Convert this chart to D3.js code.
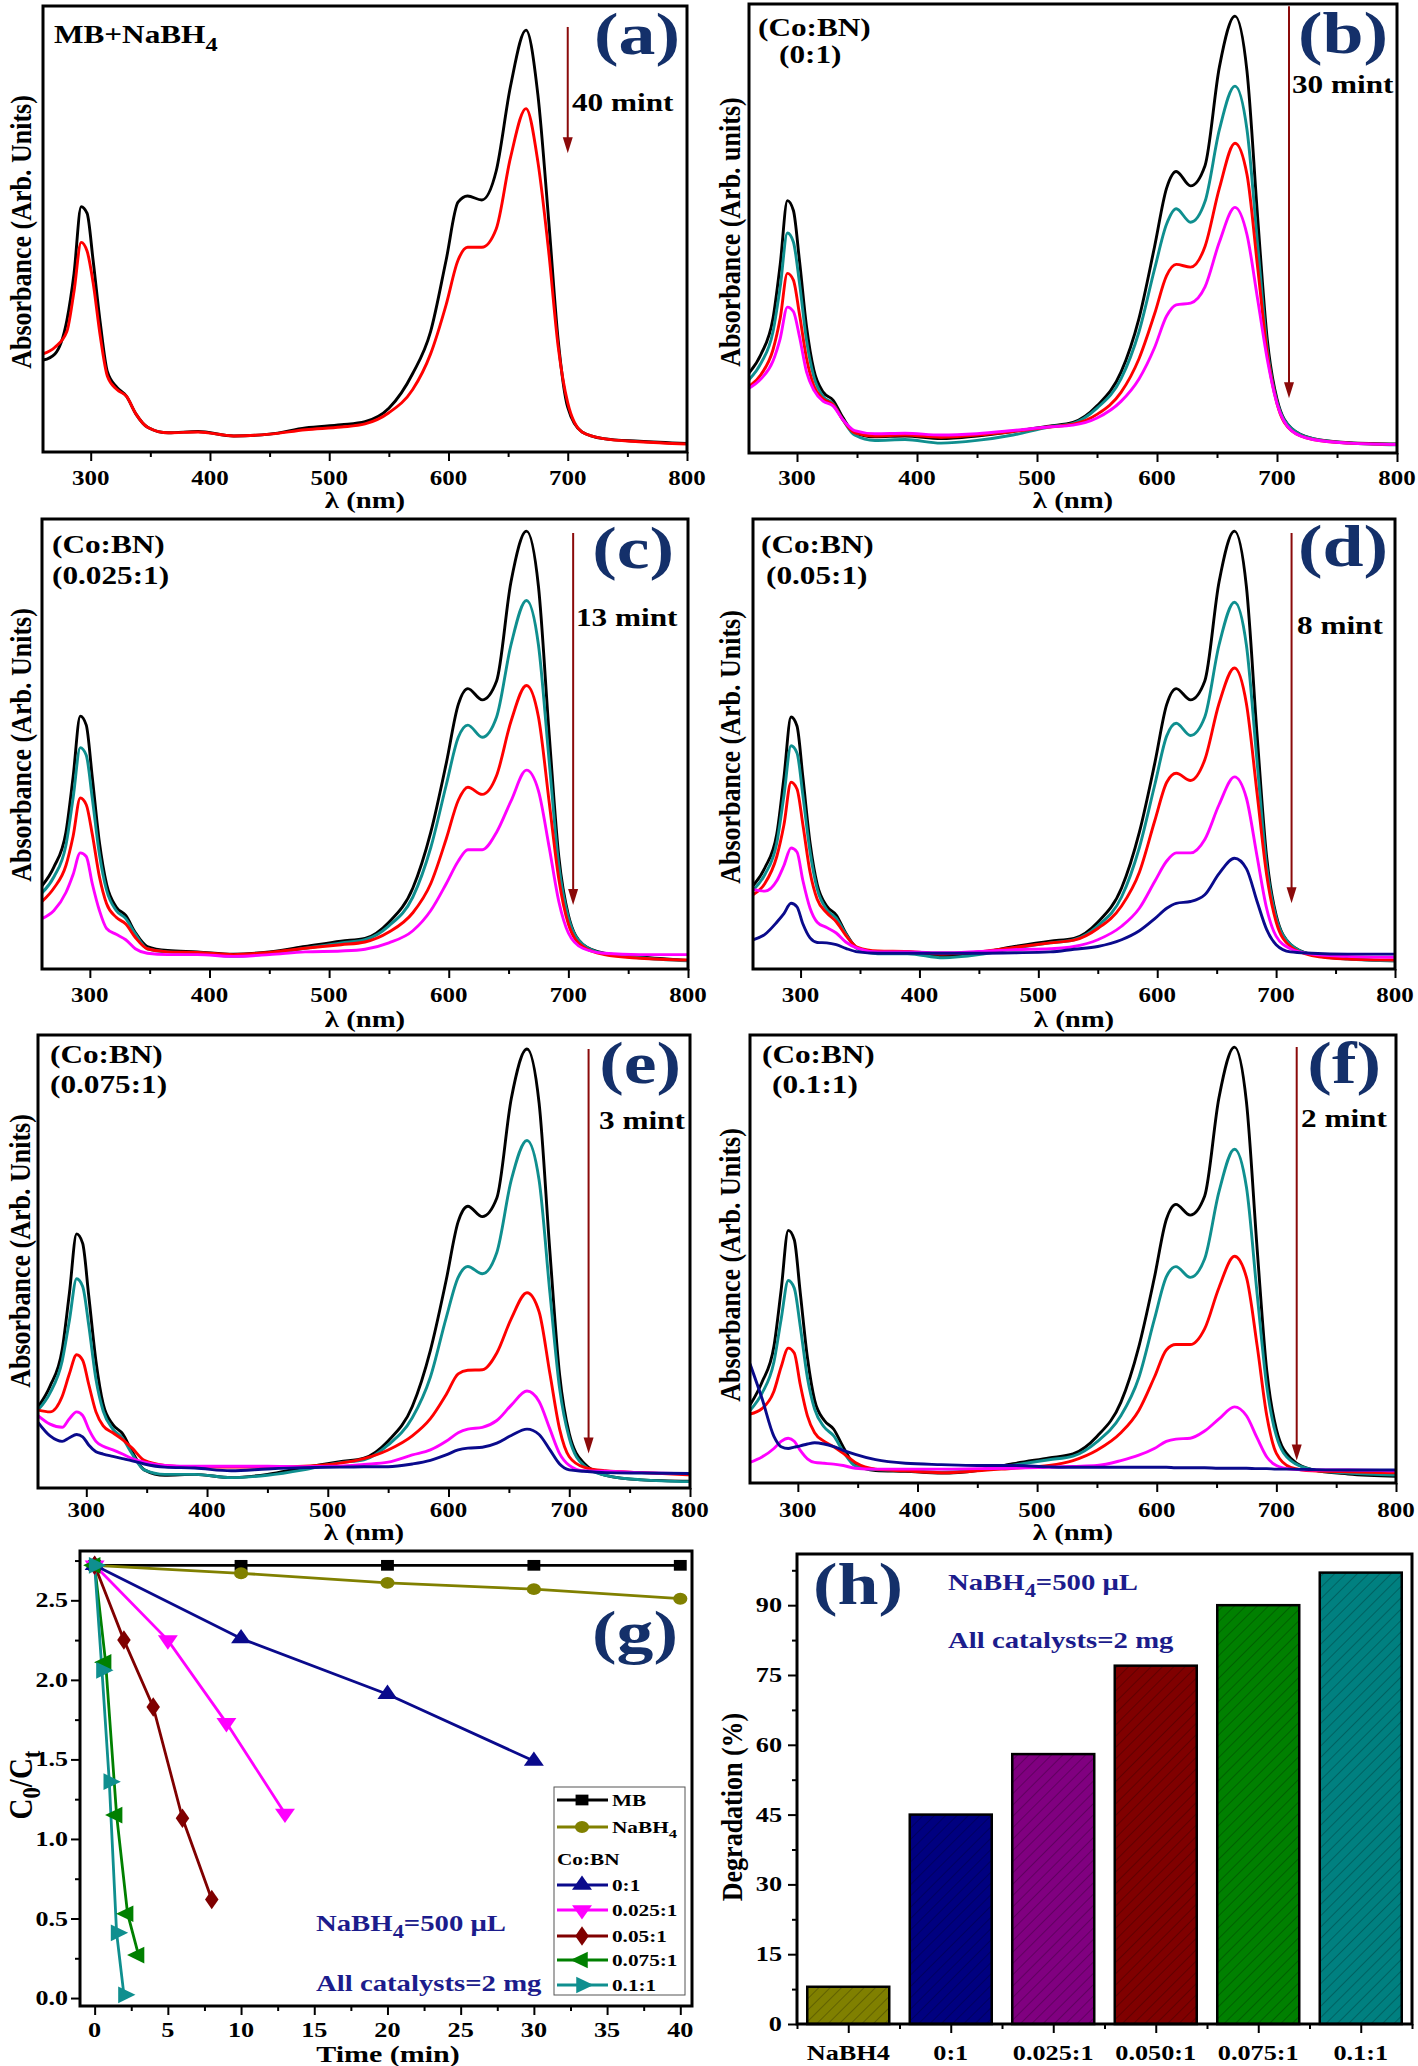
<!DOCTYPE html>
<html><head><meta charset="utf-8">
<script src="https://cdn.jsdelivr.net/npm/d3@7"></script>
<style>body{margin:0;background:#fff} svg{display:block}</style>
</head><body>
<script>
// ---------------- DATA ----------------
const wl = [260,270,280,286,292,297,302,308,314,322,330,338,348,365,390,420,450,480,510,530,550,570,585,598,608,616,628,640,652,665,675,684,692,700,712,730,760,800];

const a_black = [20.6,22,29.5,40,55,53.5,43,29,18,14.5,12.5,8.5,5.5,4.3,4.6,3.6,4,5.4,6.1,6.8,9.8,17.6,27,43,56,57.4,56.5,63,82,94.6,80,52,25,10,4.5,3,2.4,1.9];
const a_red   = [22,23.5,27,36,47,45,38,26,17,14,12.5,8.5,5.5,4.3,4.5,3.6,4,5,5.6,6.3,8.8,14,22,33,43,45.9,45.9,50,66,77,65,45,23.6,11,4.5,3,2.3,1.8];

const b_black   = [17.8,22,30,42,56.2,54,43,28,18.5,13.5,11.8,8,4.5,3.6,3.8,3.2,3.8,4.8,6,6.8,10.5,18,30,46,59,62.7,59.5,64,86,97.3,85,52,25,12,5.5,3.2,2.3,2];
const b_teal    = [16.3,20,27,37,49,47,38,25,17,12.5,11,7.5,4,2.8,3,2.2,2.8,4,5.8,6.6,10,16.5,27,41,51,54.4,51.4,56,72,81.7,72,46,23,11.5,5.5,3.2,2.2,1.8];
const b_red     = [14.8,17.5,23,30,40,38.5,31,21,15,12,10.8,7.5,4.5,3.8,4,3.5,4,4.8,5.8,6.4,8.6,13.5,21,31,39.5,42,41.4,46,59,69,62,41,22,11,5,3,2.2,1.9];
const b_magenta = [14.4,16.5,20.5,25.5,32.5,31.5,26,18,14,11.5,10.5,7.5,5,4.3,4.4,4,4.3,5,5.8,6.2,7.8,11.5,16.5,23.5,30.5,33,33.4,37,47,54.7,48.6,34,20.7,11,5,3,2.2,1.9];

const c_black   = [18.5,22.7,30.4,42.7,56.2,54.2,42.7,28.1,18.8,13.8,11.9,8.1,5,4.1,3.8,3.3,3.8,5,6.2,6.8,10.4,18,30.4,45.8,58.8,62.3,59.8,64,86,97.3,85,52,25,12,5.5,3.5,2.7,1.9];
const c_teal    = [16.9,20.5,27.5,38,49.2,47.5,38,25.5,17.5,13,11.2,7.8,4.5,3.8,3.6,2.8,3.4,4.6,5.8,6.5,9.6,16,27,41,51.5,54.2,51.5,56,72,81.9,72,46,23,11.5,5.5,3.4,2.5,1.8];
const c_red     = [15,18,23,29.5,38,36.5,30,20.5,14.5,11.5,10,7,4.5,3.8,3.7,3.2,3.7,4.6,5.4,6,8.2,12.5,19,29,37.5,40.4,38.8,43,55,63,56,37,20,10,5,3.2,2.4,2];
const c_magenta = [11.2,13,17,21,25.8,25,19,13,9,7.7,6.5,4.5,3.5,3.2,3.2,2.8,3.2,3.8,4,4.4,5.8,8.5,13,19,24,26.5,26.5,30.4,37.3,44.2,39.6,27,15,8,4.6,3.5,3.2,3.2];

const d_black   = [18.5,22.5,30,42.5,56,54,42.5,28,18.8,14,12,8,4.6,3.7,3.8,3,3.6,5,6.2,6.8,10.4,18,30.4,45.8,58.8,62.3,59.8,64,86,97.3,85,52,25,12,5.5,3.2,2.3,1.8];
const d_teal    = [17.5,21,28,38.5,49.6,48,38.5,26,17.8,13.2,11.3,7.8,4.4,3.4,3.4,2.5,3.2,4.6,5.8,6.5,9.6,16,27,41,51.8,54.6,51.9,56,72,81.5,72,46,23,11.5,5.5,3.2,2.2,1.8];
const d_red     = [16.5,19,25,32,41.5,40,32,21.5,15.5,12.5,10.5,7.5,4.8,4,3.9,3.3,3.8,4.8,5.8,6.4,9,14,21.5,33,41.5,43.5,41.9,46.5,59,66.9,59,39,21,10.5,5,3,2.2,2];
const d_magenta = [17.7,17.3,19.6,23,26.9,26,19.6,13.5,10.4,9.2,8,6,4.6,3.8,3.8,3.6,3.9,4.3,4.5,5,6.5,9.5,13.5,19.5,24,25.8,25.8,28.8,36.5,42.7,38,25,13.5,7.3,4.5,3.3,2.8,2.6];
const d_navy    = [6.5,7.7,10.4,12.3,14.6,13.8,10,6.9,5.9,5.8,5.4,4.6,3.8,3.5,3.5,3.5,3.5,3.6,3.8,4.4,5,6.5,8.5,11.2,13.5,14.6,15,16.5,21.2,24.6,22.3,15,8.8,5.4,3.8,3.5,3.3,3.3];

const e_black   = [17.9,22.5,30.5,43,56.1,54,42.5,28,18.5,14,12,8,4,2.8,3,2.3,3,4.5,5.8,6.6,10.4,18,30.4,45.8,58.8,62.2,59.9,64,86,96.9,85,52,25,12,5.5,2.8,1.8,1.5];
const e_teal    = [17.2,21,28,37,46.2,44.5,36,24,17,13,11,7.5,4,3,3,2.3,2.8,4,5.6,6.2,9.5,15.5,24.5,37.5,46.5,48.9,47.3,52,68,76.7,68,43,22,11,5,2.8,1.8,1.4];
const e_red     = [17.2,16.8,20.2,25.2,29.4,28.2,22.9,16.8,13.7,12.2,10.7,8.8,6.1,5,4.6,4.6,4.6,4.8,5.5,6.5,8.4,11.5,15.3,20.6,25.2,26,26.1,29.8,37.4,43.1,38.9,25.2,13,6.9,4.6,3.8,3.4,2.9];
const e_magenta = [16,14.1,13.4,15.3,16.8,16,13,10.3,9.2,8.4,7.5,6.5,5.7,5,4.8,4.8,4.8,4.7,4.8,5.2,5.7,7.3,8.4,10.3,12.2,13,13.4,14.9,18.3,21.4,19.1,13,7.6,5,3.8,3.7,3.4,3.2];
const e_navy    = [14.5,11.5,10.3,11.1,11.8,11.3,9.5,8,7.5,7,6.5,6,5.3,4.6,4.4,3.8,4.2,4.5,4.6,4.7,4.7,5.3,6.1,7.3,8.4,8.8,9,9.9,11.6,13,11.8,8.4,5.3,4,3.7,3.4,3.3,3.2];

const f_black   = [17.4,22.5,30.5,43,56.4,54.3,42.5,28,18.5,14,12,8,4,2.8,2.6,2.2,2.8,4.3,5.6,6.5,10.4,18,30.4,45.8,58.8,62.2,59.8,64,86,97.3,85,52,25,12,5.5,3,2,1.5];
const f_teal    = [16.2,20,27,36.5,45.2,43.5,35,23.5,16.5,12.5,10.5,7,3.8,3,2.8,2.4,2.9,4,5.2,6,9.2,15,23.5,36.5,46,48.3,45.9,50,65,74.5,66,42,21.5,10.5,5,3,2.2,1.8];
const f_red     = [15.4,16.6,20.5,25.9,30.1,29,22,15,11.2,9.3,8.1,6.6,4.6,3.1,2.7,2.3,2.7,3.3,3.9,5,7.3,11.2,16.2,23.6,29.7,30.9,30.9,34.4,43.6,50.6,45.9,30.5,15,6.6,3.5,2.7,2.5,2.3];
const f_magenta = [4.6,5.8,7.7,9.3,10,9.3,7.3,5.4,4.6,4.4,4.2,3.9,3.3,3.1,3.1,3.1,3.2,3.3,3.5,3.7,3.9,5,6.2,7.7,9.3,9.8,10,11.6,14.3,17,15,10,5.8,3.9,3.1,2.9,2.9,2.7];
const f_navy    = [26.6,18.9,10.4,8.1,7.7,8,8.3,8.7,9,8.7,8.1,7.3,6.4,5.2,4.4,4.1,3.9,3.9,3.6,3.5,3.5,3.5,3.5,3.5,3.5,3.4,3.4,3.4,3.3,3.3,3.3,3.2,3.2,3.1,3.1,3,2.9,2.9];

const xTicksNm = [300,400,500,600,700,800];
const xMinorNm = [350,450,550,650,750];

// panel (g): C0/Ct vs time
const g_names  = ["MB","NaBH_{4}","0:1","0.025:1","0.05:1","0.075:1","0.1:1"];
const g_mb_t   = [0,10,20,30,40];      const g_mb_v   = [2.72,2.72,2.72,2.72,2.72];
const g_nab_t  = [0,10,20,30,40];      const g_nab_v  = [2.72,2.67,2.61,2.57,2.51];
const g_01_t   = [0,10,20,30];         const g_01_v   = [2.72,2.26,1.91,1.49];
const g_025_t  = [0,5,9,13];           const g_025_v  = [2.72,2.25,1.73,1.16];
const g_05_t   = [0,2,4,6,8];          const g_05_v   = [2.72,2.25,1.83,1.13,0.62];
const g_075_t  = [0,0.75,1.5,2.25,3];  const g_075_v  = [2.72,2.11,1.15,0.53,0.27];
const g_1_t    = [0,0.5,1,1.5,2];      const g_1_v    = [2.72,2.06,1.36,0.41,0.02];
const g_xticks = [0,5,10,15,20,25,30,35,40];
const g_yticks = [0,0.5,1,1.5,2,2.5];

// panel (h): degradation %
const h_cats = ["NaBH4","0:1","0.025:1","0.050:1","0.075:1","0.1:1"];
const h_vals = [8,45,58,77,90,97];
const h_yticks = [0,15,30,45,60,75,90];

// ---------------- DRAWING ----------------
const W = 1418, H = 2066;
const FONT = "'Liberation Serif','Times New Roman',serif";
const SX = 1.25;
const svg = d3.select('body').append('svg').attr('width', W).attr('height', H);
svg.append('rect').attr('width', W).attr('height', H).attr('fill', '#fff');
const defs = svg.append('defs');

function label(g, x, y, str, o = {}) {
  const size = o.size || 20;
  const sx = o.sx || SX;
  const t = g.append('text')
    .attr('transform', o.rot ? `translate(${x},${y}) rotate(-90) scale(1,${sx})` : `translate(${x},${y}) scale(${sx},1)`)
    .attr('text-anchor', o.anchor || 'start')
    .attr('font-family', FONT).attr('font-weight', 'bold').attr('font-size', size)
    .attr('fill', o.fill || '#000');
  const parts = str.split(/(_\{[^}]*\})/).filter(s => s.length);
  let shift = 0;
  parts.forEach(p => {
    const sub = p.startsWith('_{');
    const txt = sub ? p.slice(2, -1) : p;
    const target = sub ? size * 0.3 : 0;
    const ts = t.append('tspan').text(txt);
    if (target - shift !== 0) ts.attr('dy', target - shift);
    shift = target;
    if (sub) ts.attr('font-size', size * 0.78);
  });
  return t;
}

function styleAxis(sel) {
  sel.select('.domain').remove();
  sel.selectAll('.tick line').attr('stroke', '#000').attr('stroke-width', 2);
  sel.selectAll('.tick text').remove();
}

const C = {black:'#000000', teal:'#0f8f8f', red:'#ff0000', magenta:'#ff00ff', navy:'#0a0a8c'};
const LETTER = '#14306a';
const ARROW = '#8b0a0a';

const panels = [
  {id:'a', L:43, R:687, T:6, B:452, tickY:485, xlabY:508, ylab:'Absorbance (Arb. Units)', ylabX:20, ylabY:232,
   series:[[a_black,C.black],[a_red,C.red]],
   title:[['MB+NaBH_{4}',54,43]], arrow:[700,95.3,67], mint:['40 mint',572,111], letter:['(a)',680,54]},
  {id:'b', L:749, R:1397, T:4, B:453, tickY:485, xlabY:508, ylab:'Absorbance (Arb. units)', ylabX:729, ylabY:232,
   series:[[b_black,C.black],[b_teal,C.teal],[b_red,C.red],[b_magenta,C.magenta]],
   title:[['(Co:BN)',758,36],['(0:1)',779,63]], arrow:[710,99.5,12.2], mint:['30 mint',1292,93], letter:['(b)',1388,53]},
  {id:'c', L:42, R:688, T:519, B:969, tickY:1002, xlabY:1027, ylab:'Absorbance (Arb. Units)', ylabX:20, ylabY:745,
   series:[[c_black,C.black],[c_teal,C.teal],[c_red,C.red],[c_magenta,C.magenta]],
   title:[['(Co:BN)',52,553],['(0.025:1)',52,584]], arrow:[704,96.9,14.2], mint:['13 mint',576,626], letter:['(c)',674,568]},
  {id:'d', L:753, R:1395, T:519, B:969, tickY:1002, xlabY:1027, ylab:'Absorbance (Arb. Units)', ylabX:729, ylabY:747,
   series:[[d_black,C.black],[d_teal,C.teal],[d_red,C.red],[d_magenta,C.magenta],[d_navy,C.navy]],
   title:[['(Co:BN)',761,553],['(0.05:1)',766,584]], arrow:[713,96.9,14.6], mint:['8 mint',1297,634], letter:['(d)',1388,566]},
  {id:'e', L:38, R:690, T:1035, B:1488, tickY:1517, xlabY:1540, ylab:'Absorbance (Arb. Units)', ylabX:19, ylabY:1251,
   series:[[e_black,C.black],[e_teal,C.teal],[e_red,C.red],[e_magenta,C.magenta],[e_navy,C.navy]],
   title:[['(Co:BN)',50,1063],['(0.075:1)',50,1093]], arrow:[716,96.9,7.6], mint:['3 mint',599,1129], letter:['(e)',681,1083]},
  {id:'f', L:750, R:1396, T:1035, B:1483, tickY:1517, xlabY:1540, ylab:'Absorbance (Arb. Units)', ylabX:729, ylabY:1265,
   series:[[f_black,C.black],[f_teal,C.teal],[f_red,C.red],[f_magenta,C.magenta],[f_navy,C.navy]],
   title:[['(Co:BN)',762,1063],['(0.1:1)',772,1093]], arrow:[717,97.3,5], mint:['2 mint',1301,1127], letter:['(f)',1381,1083]},
];

panels.forEach(p => {
  const g = svg.append('g');
  const x = d3.scaleLinear().domain([260, 800]).range([p.L, p.R]);
  const y = d3.scaleLinear().domain([0, 100]).range([p.B, p.T]);
  defs.append('clipPath').attr('id', 'clip' + p.id).append('rect')
    .attr('x', p.L).attr('y', p.T).attr('width', p.R - p.L).attr('height', p.B - p.T);
  const line = d3.line().x((d, i) => x(wl[i])).y(d => y(d)).curve(d3.curveMonotoneX);
  const lg = g.append('g').attr('clip-path', `url(#clip${p.id})`);
  p.series.forEach(([v, c]) => lg.append('path').attr('d', line(v)).attr('fill', 'none')
    .attr('stroke', c).attr('stroke-width', 2.9).attr('stroke-linejoin', 'round'));
  g.append('g').attr('transform', `translate(0,${p.B})`)
    .call(d3.axisBottom(x).tickValues(xTicksNm).tickSize(9).tickSizeOuter(0)).call(styleAxis);
  g.append('g').attr('transform', `translate(0,${p.B})`)
    .call(d3.axisBottom(x).tickValues(xMinorNm).tickSize(5).tickSizeOuter(0)).call(styleAxis);
  xTicksNm.forEach(v => label(g, x(v), p.tickY, String(v), {size:20, anchor:'middle'}));
  label(g, (p.L + p.R) / 2, p.xlabY, 'λ (nm)', {size:23, anchor:'middle'});
  label(g, p.ylabX, p.ylabY, p.ylab, {size:26, anchor:'middle', rot:true, sx:1.12}).attr('dominant-baseline', 'central');
  g.append('rect').attr('x', p.L).attr('y', p.T).attr('width', p.R - p.L).attr('height', p.B - p.T)
    .attr('fill', 'none').attr('stroke', '#000').attr('stroke-width', 3);
  p.title.forEach(([s, tx, ty]) => label(g, tx, ty, s, {size:25}));
  const axp = x(p.arrow[0]), ay0 = y(p.arrow[1]), ay1 = y(p.arrow[2]);
  g.append('line').attr('x1', axp).attr('x2', axp).attr('y1', ay0).attr('y2', ay1 - 10)
    .attr('stroke', ARROW).attr('stroke-width', 2);
  g.append('path').attr('d', `M${axp - 5},${ay1 - 16}L${axp + 5},${ay1 - 16}L${axp},${ay1}Z`).attr('fill', ARROW);
  label(g, p.mint[1], p.mint[2], p.mint[0], {size:25});
  label(g, p.letter[1], p.letter[2], p.letter[0], {size:59, anchor:'end', fill:LETTER});
});

// ---------- panel (g) ----------
(function () {
  const L = 80, R = 692, T = 1551, B = 2006;
  const g = svg.append('g');
  const x = d3.scaleLinear().domain([-1, 40.8]).range([L, R]);
  const y = d3.scaleLinear().domain([-0.05, 2.81]).range([B, T]);
  g.append('g').attr('transform', `translate(0,${B})`)
    .call(d3.axisBottom(x).tickValues(g_xticks).tickSize(9).tickSizeOuter(0)).call(styleAxis);
  g.append('g').attr('transform', `translate(0,${B})`)
    .call(d3.axisBottom(x).tickValues(g_xticks.slice(0, -1).map(v => v + 2.5)).tickSize(5).tickSizeOuter(0)).call(styleAxis);
  g.append('g').attr('transform', `translate(${L},0)`)
    .call(d3.axisLeft(y).tickValues(g_yticks).tickSize(9).tickSizeOuter(0)).call(styleAxis);
  g.append('g').attr('transform', `translate(${L},0)`)
    .call(d3.axisLeft(y).tickValues(g_yticks.map(v => v + 0.25)).tickSize(5).tickSizeOuter(0)).call(styleAxis);
  g_xticks.forEach(v => label(g, x(v), 2037, String(v), {size:21, anchor:'middle'}));
  g_yticks.forEach(v => label(g, 68, y(v) + 7, v.toFixed(1), {size:20, anchor:'end', sx:1.3}));
  label(g, (L + R) / 2 + 2, 2062, 'Time (min)', {size:24, anchor:'middle'});
  label(g, 20, 1785, 'C_{0}/C_{t}', {size:29, anchor:'middle', rot:true, sx:1.15}).attr('dominant-baseline', 'central');

  const tri = d3.symbol().type(d3.symbolTriangle).size(120)();
  const series = [
    {t:g_mb_t, v:g_mb_v, c:'#000000', sym:d3.symbol().type(d3.symbolSquare).size(115)(), rot:0},
    {t:g_nab_t, v:g_nab_v, c:'#808000', sym:d3.symbol().type(d3.symbolCircle).size(110)(), rot:0},
    {t:g_01_t, v:g_01_v, c:'#0a0a8c', sym:tri, rot:0},
    {t:g_025_t, v:g_025_v, c:'#ff00ff', sym:tri, rot:180},
    {t:g_05_t, v:g_05_v, c:'#800000', sym:d3.symbol().type(d3.symbolDiamond).size(110)(), rot:0},
    {t:g_075_t, v:g_075_v, c:'#008000', sym:tri, rot:-90},
    {t:g_1_t, v:g_1_v, c:'#0f8f8f', sym:tri, rot:90},
  ];
  const line = d3.line().x(d => x(d[0])).y(d => y(d[1]));
  series.forEach(s => {
    const pts = s.t.map((t, i) => [t, s.v[i]]);
    g.append('path').attr('d', line(pts)).attr('fill', 'none').attr('stroke', s.c).attr('stroke-width', 2.8);
  });
  series.forEach(s => {
    s.t.forEach((t, i) => g.append('path').attr('d', s.sym).attr('fill', s.c)
      .attr('transform', `translate(${x(t)},${y(s.v[i])}) scale(1.2,1) rotate(${s.rot})`));
  });
  g.append('rect').attr('x', L).attr('y', T).attr('width', R - L).attr('height', B - T)
    .attr('fill', 'none').attr('stroke', '#000').attr('stroke-width', 3);
  // legend
  g.append('rect').attr('x', 554).attr('y', 1787).attr('width', 131).attr('height', 208)
    .attr('fill', '#fff').attr('stroke', '#555').attr('stroke-width', 1);
  const rows = [1800, 1827, 1885, 1910, 1936, 1960, 1985];
  series.forEach((s, i) => {
    const ry = rows[i];
    g.append('line').attr('x1', 557).attr('x2', 608).attr('y1', ry).attr('y2', ry).attr('stroke', s.c).attr('stroke-width', 2.8);
    g.append('path').attr('d', s.sym).attr('fill', s.c).attr('transform', `translate(582,${ry}) scale(1.2,1) rotate(${s.rot})`);
    label(g, 612, ry + 6, g_names[i], {size:17});
  });
  label(g, 557, 1865, 'Co:BN', {size:17});
  label(g, 316, 1931, 'NaBH_{4}=500 μL', {size:23, fill:'#1c1c8c'});
  label(g, 316, 1991, 'All catalysts=2 mg', {size:23, fill:'#1c1c8c'});
  label(g, 678, 1652, '(g)', {size:59, anchor:'end', fill:LETTER});
})();

// ---------- panel (h) ----------
(function () {
  const L = 797, R = 1412, T = 1554, B = 2024;
  const g = svg.append('g');
  const x = d3.scaleBand().domain(h_cats).range([L, R]).paddingInner(0.2).paddingOuter(0.1);
  const y = d3.scaleLinear().domain([0, 101]).range([B, T]);
  const colors = ['#808000', '#000080', '#800080', '#800000', '#008000', '#008080'];
  colors.forEach((c, i) => {
    const pat = defs.append('pattern').attr('id', 'hatch' + i).attr('patternUnits', 'userSpaceOnUse')
      .attr('width', 8).attr('height', 8).attr('patternTransform', 'rotate(45)');
    pat.append('rect').attr('width', 8).attr('height', 8).attr('fill', c);
    pat.append('line').attr('x1', 0).attr('y1', 0).attr('x2', 0).attr('y2', 8)
      .attr('stroke', 'rgba(0,0,0,0.4)').attr('stroke-width', 1.2);
  });
  h_cats.forEach((cat, i) => {
    g.append('rect').attr('x', x(cat)).attr('y', y(h_vals[i])).attr('width', x.bandwidth())
      .attr('height', y(0) - y(h_vals[i])).attr('fill', `url(#hatch${i})`)
      .attr('stroke', '#000').attr('stroke-width', 2.5);
  });
  const centers = h_cats.map(c => x(c) + x.bandwidth() / 2);
  const step = x.step();
  const xs = d3.scaleLinear().domain([0, 1]).range([0, 1]);
  g.append('g').attr('transform', `translate(0,${B})`)
    .call(d3.axisBottom(xs).tickValues(centers).tickSize(9).tickSizeOuter(0)).call(styleAxis);
  g.append('g').attr('transform', `translate(0,${B})`)
    .call(d3.axisBottom(xs).tickValues([centers[0] - step / 2].concat(centers.map(c => c + step / 2))).tickSize(5).tickSizeOuter(0)).call(styleAxis);
  g.append('g').attr('transform', `translate(${L},0)`)
    .call(d3.axisLeft(y).tickValues(h_yticks).tickSize(9).tickSizeOuter(0)).call(styleAxis);
  g.append('g').attr('transform', `translate(${L},0)`)
    .call(d3.axisLeft(y).tickValues(h_yticks.map(v => v + 7.5)).tickSize(5).tickSizeOuter(0)).call(styleAxis);
  h_cats.forEach((c, i) => label(g, centers[i], 2060, c, {size:21, anchor:'middle'}));
  h_yticks.forEach(v => label(g, 782, y(v) + 7, String(v), {size:21, anchor:'end'}));
  label(g, 733, 1807, 'Degradation (%)', {size:26, anchor:'middle', rot:true, sx:1.1}).attr('dominant-baseline', 'central');
  g.append('rect').attr('x', L).attr('y', T).attr('width', R - L).attr('height', B - T)
    .attr('fill', 'none').attr('stroke', '#000').attr('stroke-width', 3);
  label(g, 813, 1604, '(h)', {size:59, fill:LETTER});
  label(g, 948, 1590, 'NaBH_{4}=500 μL', {size:23, fill:'#1c1c8c'});
  label(g, 948, 1648, 'All catalysts=2 mg', {size:23, fill:'#1c1c8c'});
})();
</script>
</body></html>
